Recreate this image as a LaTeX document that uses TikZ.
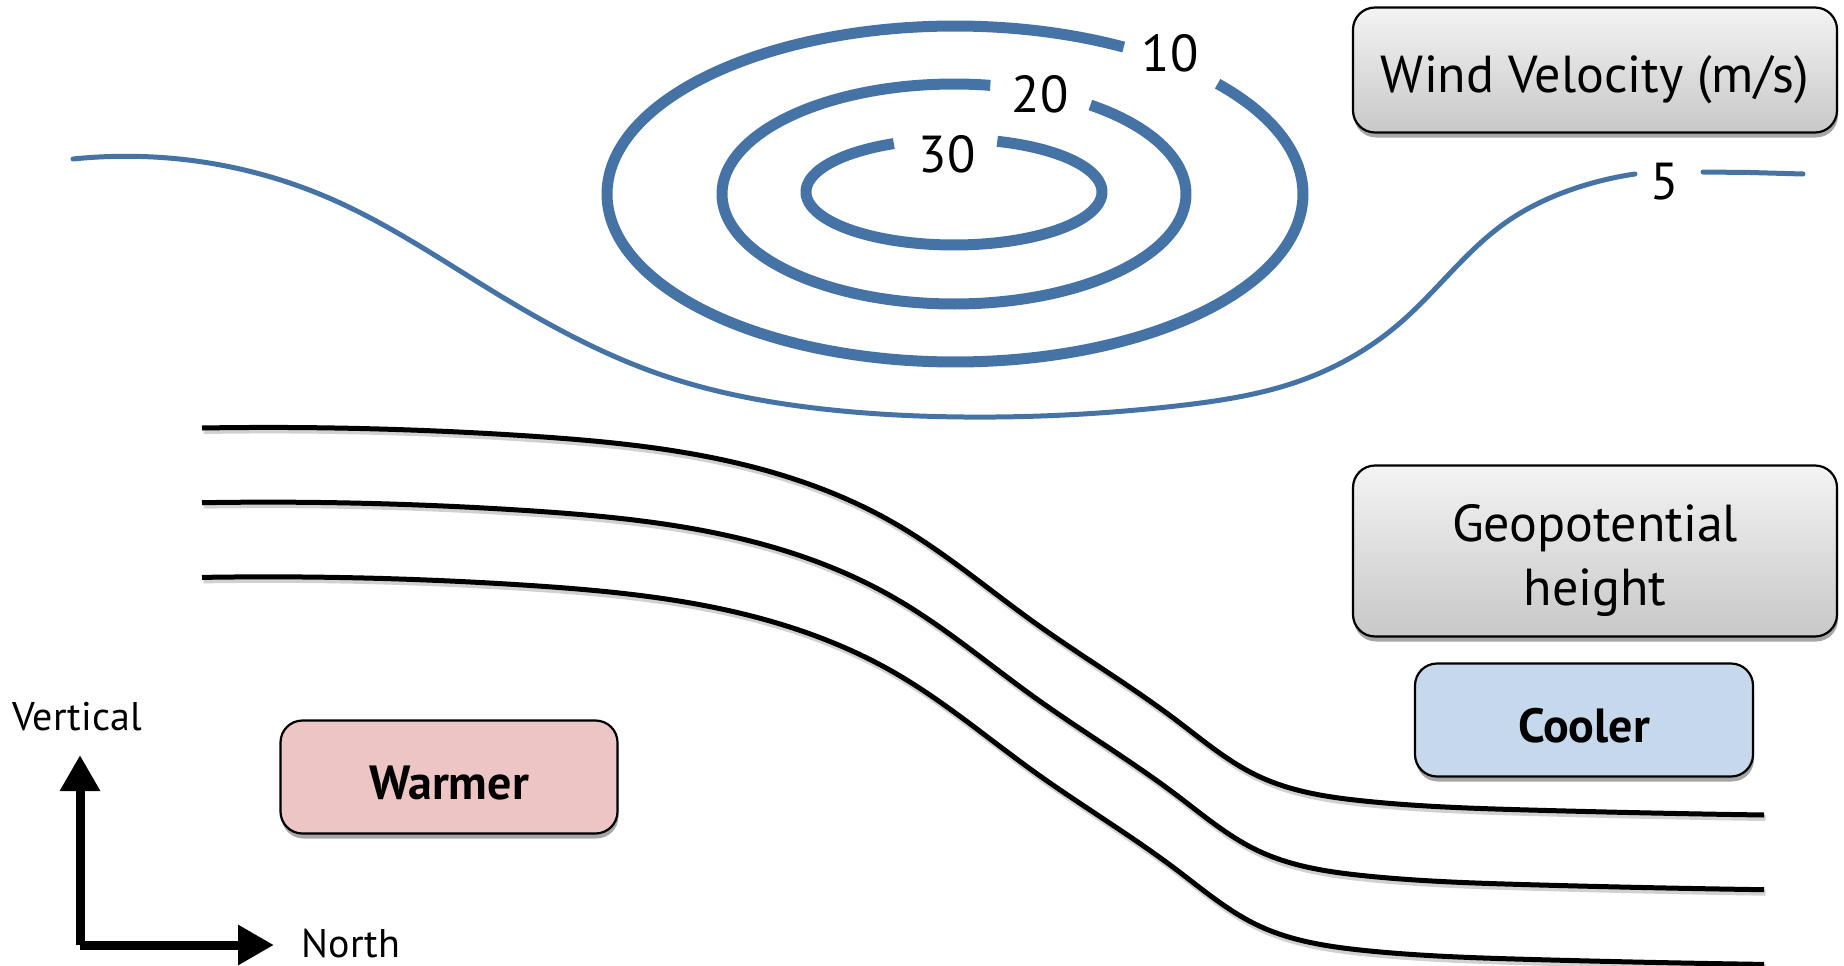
\documentclass[tikz,border=0pt]{standalone}
\usepackage{fontspec}
\setmainfont{PT Sans}
\usetikzlibrary{arrows.meta,shadows,hobby}
\definecolor{wblue}{RGB}{69,115,165}
\definecolor{warmfill}{RGB}{236,197,196}
\definecolor{coolfill}{RGB}{197,216,236}
\definecolor{boxtop}{RGB}{243,243,243}
\definecolor{boxbot}{RGB}{200,200,200}
\begin{document}
\begin{tikzpicture}[x=1pt,y={(0pt,-1pt)},
  boxbase/.style={draw=black, line width=2.2pt, rounded corners=22pt, inner sep=0pt, align=center,
    drop shadow={shadow xshift=1pt, shadow yshift=-5pt, opacity=0.35, fill=black}},
  graybox/.style={boxbase, top color=boxtop, bottom color=boxbot, font=\fontsize{52}{64}\selectfont},
  tempbox/.style={boxbase, font=\bfseries\fontsize{48}{56}\selectfont},
  contour/.style={draw=wblue, line width=11pt},
  numlbl/.style={font=\fontsize{52}{60}\selectfont, inner sep=0pt},
  wave/.style={draw=wblue, line width=5pt, line cap=round},
  isoline/.style={draw=black, line width=5pt},
  isoshadow/.style={draw=black, line width=6pt, opacity=0.18},
  axis/.style={draw=black, line width=9pt, line join=round, -{Triangle[length=36pt,width=38pt]}},
  axlbl/.style={font=\fontsize{40}{48}\selectfont, inner sep=0pt},
  geopath/.style={insert path={(202,428) to[curve through={(529,436) (753,467) (894,523) (1035,623) (1176,720) (1258,776) (1364,801) (1529,810)}] (1764,815)}}
]
\useasboundingbox (0,0) rectangle (1844,966);

% wind contours
\draw[contour] plot[domain=61:401, samples=240, variable=\t] ({955+348*cos(\t)}, {194-168*sin(\t)});
\draw[contour] plot[domain=81:414, samples=200, variable=\t] ({954+232*cos(\t)}, {194-110*sin(\t)});
\draw[contour] plot[domain=114:433, samples=160, variable=\t] ({954+148*cos(\t)}, {192-53*sin(\t)});
\node[numlbl] (l10) at (1170,53) {10};
\node[numlbl] (l20) at (1040,94) {20};
\node[numlbl] (l30) at (947,154) {30};

% 5 m/s line
\draw[wave] (73,159) to[curve through={(188,160) (329,198) (494,292) (659,374) (823,409) (964,417) (1176,406) (1305,379) (1400,323) (1505,223) (1576,188)}] (1635,174);
\node[numlbl] (l5) at (1665,182) {5};
\draw[wave] (1703,172) -- (1750,172.5) -- (1803,174);

% geopotential height lines
\foreach \s in {0,74.7,149.4} {
  \begin{scope}[yshift={-\s pt}]
    \path[isoshadow, xshift=1.5pt, yshift=-3pt, geopath];
    \path[isoline, geopath];
  \end{scope}
}

% boxes
\node[graybox, minimum width=484pt, minimum height=125pt] (wind) at (1595,70) {\rule{0pt}{56pt}Wind Velocity (m/s)};
\node[graybox, minimum width=484pt, minimum height=171pt] (geo) at (1595,551) {\rule{0pt}{56pt}Geopotential\\height};
\node[tempbox, fill=coolfill, minimum width=338pt, minimum height=113pt] (cool) at (1584,720) {\rule{0pt}{46pt}Cooler};
\node[tempbox, fill=warmfill, minimum width=337pt, minimum height=113pt] (warm) at (449,777) {\rule{0pt}{45pt}Warmer};

% axes
\coordinate (orig) at (80,945);
\coordinate (vtip) at (80,755);
\coordinate (htip) at (274,945);
\draw[axis] (orig) -- (vtip);
\draw[axis] (orig) -- (htip);
\node[axlbl] (vert) at (77,717) {Vertical};
\node[axlbl] (north) at (351,944) {North};
\end{tikzpicture}
\end{document}
